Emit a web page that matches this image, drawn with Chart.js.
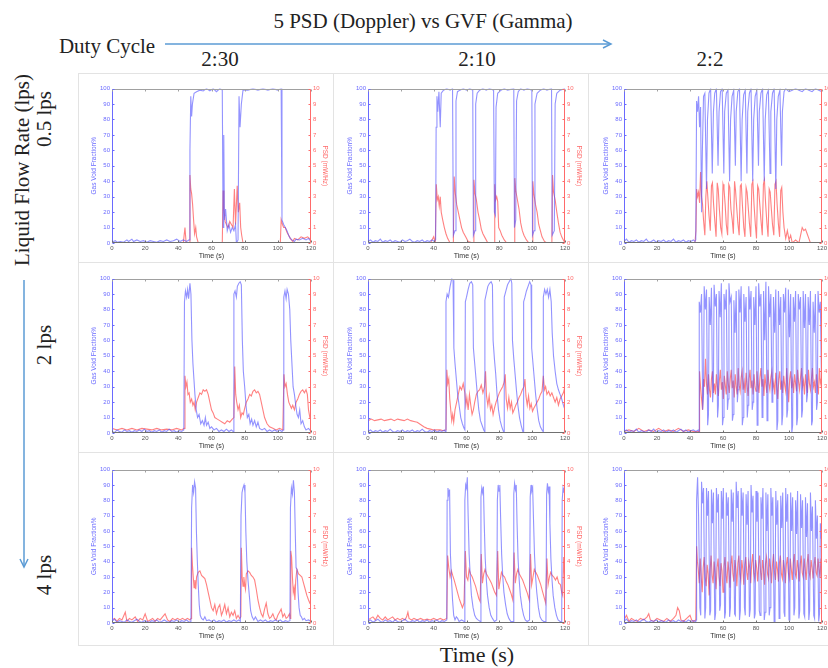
<!DOCTYPE html>
<html>
<head>
<meta charset="utf-8">
<script src="https://cdn.jsdelivr.net/npm/chart.js@4/dist/chart.umd.min.js"></script>
<style>
  html, body { margin: 0; padding: 0; background: #fff; }
  #page { position: relative; width: 828px; height: 668px; overflow: hidden; background: #fff; }
  .lbl { position: absolute; font-family: "Liberation Serif", "DejaVu Serif", serif; color: #222; white-space: nowrap; line-height: 1; transform: translate(-50%, -50%); }
  .rot { transform: translate(-50%, -50%) rotate(-90deg); }
  canvas { position: absolute; }
</style>
</head>
<body>
<div id="page">
  <svg width="828" height="668" style="position:absolute;left:0;top:0">
    <!-- panel frames -->
    <g stroke="#e3e3e3" stroke-width="1" fill="none">
      <rect x="78.5" y="73.5" width="760" height="572"/>
      <line x1="333.5" y1="73" x2="333.5" y2="646"/>
      <line x1="588.5" y1="73" x2="588.5" y2="646"/>
      <line x1="78" y1="262.5" x2="828" y2="262.5"/>
      <line x1="78" y1="452.5" x2="828" y2="452.5"/>
    </g>
    <!-- arrows -->
    <g stroke="#5b9bd5" stroke-width="1.5" fill="none">
      <line x1="165" y1="44" x2="610" y2="44"/>
      <polyline points="603,40 611,44 603,48"/>
      <line x1="24" y1="280" x2="24" y2="566"/>
      <polyline points="20,559 24,567 28,559"/>
    </g>
  </svg>

  <div class="lbl" style="left:423px;top:21px;font-size:21px;">5 PSD (Doppler) vs GVF (Gamma)</div>
  <div class="lbl" style="left:107px;top:46px;font-size:21px;">Duty Cycle</div>
  <div class="lbl" style="left:220px;top:59px;font-size:21px;">2:30</div>
  <div class="lbl" style="left:477px;top:59px;font-size:21px;">2:10</div>
  <div class="lbl" style="left:710px;top:59px;font-size:21px;">2:2</div>

  <div class="lbl rot" style="left:22px;top:170px;font-size:21px;">Liquid Flow Rate (lps)</div>
  <div class="lbl rot" style="left:44px;top:119px;font-size:21px;">0.5 lps</div>
  <div class="lbl rot" style="left:44px;top:345px;font-size:21px;">2 lps</div>
  <div class="lbl rot" style="left:44px;top:575px;font-size:21px;">4 lps</div>

  <div class="lbl" style="left:477px;top:655px;font-size:22px;">Time (s)</div>
</div>

<script>
// axis ticks
const timeTicks = [0, 20, 40, 60, 80, 100, 120];
const gvfTicks = [0, 10, 20, 30, 40, 50, 60, 70, 80, 90, 100];
const psdTicks = [0, 1, 2, 3, 4, 5, 6, 7, 8, 9, 10];

// [time (s), gas void fraction %] and [time (s), PSD mW/Hz]
// row 1: 0.5 lps
const gvf05_230 = [[0,0.5],[2,1.5],[3,0.5],[5,1],[7,0.5],[9,2],[10,1],[12,2.5],[13,1],[15,2],[17,1],[19,1.5],[21,0.5],[23,1.5],[25,1],[27,0.5],[29,1.5],[31,1],[33,2],[35,1],[37,1.5],[39,2.5],[41,1],[43,2],[45,1],[46.5,2],[47,60],[47.5,95],[48,82],[48.5,90],[49.5,97],[51,98],[53,99],[55,98.5],[57,100],[59,98.5],[61,100],[63,98],[65,100],[66.5,99],[67,10],[67.4,70],[67.8,15],[68.5,22],[69.5,8],[70.5,12],[71.5,7],[72.5,10],[73.5,8],[74.5,12],[75,0],[76,2],[76.6,95],[77.2,75],[78,90],[79,99],[82,99],[85,100],[88,99],[91,100],[94,99],[97,100],[100,99],[102,100],[102.5,15],[103.5,12],[104.5,10],[105.5,8],[106.5,5],[107.5,3],[108.5,2],[110,1],[111,2.5],[113,2],[115,3],[117,2],[118.5,3],[120,1]];
const psd05_230 = [[0,0],[43,0],[44,1],[44.7,0],[46.5,0],[47,4.4],[47.5,3.5],[48,3.2],[48.6,2.5],[49.2,1.5],[49.8,0.6],[50.5,1],[51,0.4],[52,0],[66.5,0],[67,3.4],[67.5,2.2],[68.2,1.4],[69,1.2],[70,1],[71,1.4],[72,1.2],[73,1],[73.8,3.5],[74.5,1.2],[75.5,3.7],[76.2,2],[77,2.6],[77.6,1],[78.2,0.5],[79,0],[101.5,0],[102,1.5],[102.8,1.2],[103.5,1],[104.5,1],[105.5,0.7],[106.5,0.5],[107.5,0.3],[109,0.1],[110,0.3],[112,0.2],[114,0.4],[116,0.3],[118,0.4],[120,0.2]];

const gvf05_210 = [[0,1],[1.5,2],[3,0.5],[4.5,1.5],[6,1],[7.5,2.5],[9,0.5],[10.5,1.5],[12,1],[13.5,2],[15,0.5],[16.5,1.5],[18,1],[19.5,0.5],[21,2],[22.5,1],[24,1.5],[25.5,2.5],[27,1],[28.5,0.5],[30,1.5],[31.5,1],[33,2],[34.5,0.5],[36,1.5],[37.5,1],[39,2],[40.5,1],[41.2,2],[41.5,75],[42,95],[42.5,85],[43.2,98],[44,75],[44.6,97],[46,99],[48,100],[50,99],[51.5,100],[52,5],[53,8],[53.6,92],[54.5,98],[56,99],[58,100],[60,99],[62,100],[63.8,99],[64.2,5],[65.2,8],[65.6,90],[66.5,97],[68,99],[70,100],[72,99],[74,100],[76.5,99],[77,20],[77.6,18],[78,88],[79,97],[81,99],[83,100],[85,99],[88.8,100],[89.2,10],[90,15],[90.5,92],[91.5,98],[93,100],[95,99],[97,100],[99.8,99],[100.2,5],[101.2,8],[101.7,90],[103,97],[105,99],[107,100],[109,99],[111.8,100],[112.2,5],[113.5,8],[114,90],[115,97],[117,99],[120,100]];
const psd05_210 = [[0,0],[38,0],[40,0.4],[41,0],[41.6,3.8],[42.2,2.8],[42.8,3],[43.4,2.4],[44,3],[44.6,2],[45.5,1.5],[46.5,1],[47.5,0.6],[48.5,0.3],[50,0],[52,0],[52.5,4.3],[53.2,3.2],[54,2.5],[55,2],[56,1.5],[57,1],[58,0.7],[59.5,0.4],[61,0.1],[64,0],[64.5,4.1],[65.2,3.2],[66,2.8],[67,2],[68,1.5],[69,0.9],[70,0.6],[71.5,0.3],[73,0],[76.8,0],[77.2,3.8],[77.8,2.8],[78.4,3],[79,2.7],[79.6,1],[80.5,0.8],[81.5,0.5],[83,0.2],[84.5,0],[89,0],[89.4,4.2],[90,3.4],[91,2.8],[92,2.2],[93,1.3],[94,0.8],[95,0.5],[96.5,0.2],[98,0],[100,0],[100.4,4],[101,3.2],[102,2.5],[103,2],[104,1.2],[105,0.8],[106,0.4],[107.5,0.1],[109,0],[112,0],[112.4,4.4],[113,3.3],[114,2.8],[115,2],[116,1.3],[117,0.7],[118,0.4],[119,0.2],[120,0]];

const gvf05_22 = [[0,1],[1.5,2.5],[3,0.5],[4.5,1.5],[6,1],[7.5,2],[9,0.5],[10.5,1.5],[12,1],[13.5,2.5],[15,0.5],[16.5,1],[18,2],[19.5,0.5],[21,1.5],[22.5,1],[24,2],[25.5,0.5],[27,1.5],[28.5,1],[30,2.5],[31.5,0.5],[33,1.5],[34.5,1],[36,2],[37.5,0.5],[39,1.5],[40.5,1],[42,2],[43,1],[43.5,2],[44,92],[44.6,85],[45.2,95],[45.8,75],[46.4,88],[47,20],[47.5,60],[48.2,95],[49,97],[50,35],[50.6,80],[51.5,97],[52.5,100],[53.5,45],[54.2,85],[55,97],[56,100],[57,50],[57.6,85],[58.5,98],[59.5,100],[60.5,45],[61,85],[62,97],[63,99],[64,40],[64.6,80],[65.5,95],[66.5,99],[67.5,50],[68,85],[69,98],[70,100],[71,40],[71.6,80],[72.5,96],[73.5,99],[74.5,45],[75,85],[76,97],[77,100],[78,40],[78.6,80],[79.5,95],[80.5,99],[81.5,50],[82,85],[83,97],[84,100],[85,40],[85.6,80],[86.5,96],[87.5,99],[88.5,45],[89,85],[90,97],[91,100],[92,35],[92.6,80],[93.5,95],[94.5,99],[95.5,50],[96,85],[97,98],[98,100],[100,98],[102,99],[104,100],[106,99],[108,98],[110,100],[112,99],[114,98],[116,100],[118,99],[120,98]];
const psd05_22 = [[0,0],[43,0],[43.6,0.8],[44,3.5],[44.6,3],[45.2,3.3],[45.8,2.6],[46.4,4.6],[47,3],[47.6,2.5],[48.2,1.5],[49,0.5],[49.6,3],[50.2,4],[50.8,3],[51.5,1.8],[52.3,0.8],[53,3.7],[53.6,3.9],[54.3,2.5],[55,1.5],[55.8,0.4],[56.5,3.9],[57.1,3.5],[57.8,2.2],[58.6,1],[59.3,0.6],[60,3.8],[60.6,3.5],[61.3,2.5],[62,1.2],[62.8,0.5],[63.5,3.8],[64.1,3.6],[64.8,2.2],[65.6,1.5],[66.3,0.6],[67,4],[67.6,3.4],[68.3,2.3],[69,1.3],[69.8,0.5],[70.5,3.7],[71.1,3.8],[71.8,2.4],[72.6,1],[73.3,0.4],[74,3.6],[74.6,3.3],[75.3,2.3],[76,1.3],[76.8,0.4],[77.5,3.8],[78.1,4],[78.8,2.5],[79.6,1.2],[80.3,0.3],[81,3.7],[81.6,3.5],[82.3,2.5],[83,1.5],[83.8,0.5],[84.5,3.8],[85.1,4.1],[85.8,2.6],[86.6,1.3],[87.3,0.4],[88,3.5],[88.6,3.3],[89.3,2.2],[90,1.2],[90.8,0.5],[91.5,3.8],[92.1,4],[92.8,2.5],[93.6,1.2],[94.3,0.4],[95,3.4],[95.6,3.6],[96.3,2],[97,1],[98,0.3],[99,0.8],[100,0.2],[101,0.5],[102,0],[104,0.2],[106,0],[107,0.5],[108,1],[109,0.8],[110,0.9],[111,0.6],[112,0.3],[113,0],[120,0]];

// row 2: 2 lps
const gvf2_230 = [[0,1],[1.5,0.3],[3,2],[4.5,1],[6,0.5],[7.5,2],[9,1],[10.5,1.5],[12,0.5],[13.5,1.5],[15,1],[16.5,2],[18,1],[19.5,2.5],[21,1],[22.5,1.5],[24,0.5],[25.5,1.5],[27,1],[28.5,2],[30,0.5],[31.5,1.5],[33,1],[34.5,2.5],[36,1],[37.5,1.5],[39,0.5],[40.5,1.5],[42,1],[43.3,2],[43.7,85],[44.3,92],[45,88],[45.6,93],[46.2,87],[47,97],[47.6,90],[48.2,60],[48.8,45],[49.4,35],[50,25],[50.8,15],[51.6,10],[52.5,12],[53.5,6],[54.5,8],[55.5,5],[56.3,10],[57,5],[58,7],[59,3],[60,4],[61.5,2],[63,3],[64.5,1],[66,2],[67.5,1],[69,2.5],[70.5,1],[72,2],[73,1],[73.5,90],[74.2,92],[75,88],[75.6,95],[76.5,97],[77.3,98],[78,96],[78.6,60],[79.2,40],[80,30],[80.8,18],[81.6,10],[82.5,12],[83.3,6],[84.2,9],[85,5],[86,8],[87,4],[88,7],[89,3],[90.5,2],[92,3],[93.5,1],[95,2],[96.5,1],[98,2],[99.5,1],[101,2],[102.5,1],[103.3,2],[103.6,88],[104.3,92],[105,87],[105.6,93],[106.4,90],[107.2,80],[107.8,60],[108.5,45],[109.2,30],[110,25],[110.8,18],[111.6,12],[112.4,10],[113.2,15],[114,6],[115,8],[116,4],[117,2],[118.5,3],[120,1]];
const psd2_230 = [[0,0.3],[3,0.2],[6,0.3],[9,0.2],[12,0.3],[15,0.2],[18,0.3],[21,0.25],[24,0.2],[27,0.3],[30,0.2],[33,0.25],[36,0.2],[39,0.3],[42,0.2],[43.5,0.3],[44,3.7],[44.6,3],[45.2,3.3],[45.8,2.5],[46.5,2.6],[47.2,2],[48,2.2],[48.8,1.8],[49.5,2],[50.2,1.5],[51,2],[52,2.3],[53,2.6],[54,2.5],[55,2.8],[56,2.7],[57,2.8],[58,2.5],[59,2],[60,1.5],[61,1.3],[62,1],[63.5,0.9],[65,0.8],[66.5,0.7],[68,0.6],[69.5,0.8],[71,0.7],[72.5,0.9],[73.5,1],[74,4.3],[74.6,2.5],[75.2,2],[76,1.5],[76.8,1.8],[77.6,1],[78.4,1.3],[79.2,1.2],[80,1.6],[81,2],[82,2.2],[83,2.5],[84,2.4],[85,2.7],[86,2.8],[87,2.6],[88,2.7],[89,2.5],[90,2],[91,1.5],[92,1],[93.5,0.6],[95,0.4],[97,0.3],[99,0.2],[101,0.3],[103,0.2],[103.7,3.8],[104.3,3],[105,3.2],[105.8,2.5],[106.6,2],[107.4,1.8],[108.2,1.6],[109,1.8],[110,1.5],[111,2],[112,2.2],[113,2.5],[114,2.7],[115,2.8],[116,2.6],[117,2.8],[117.8,2.5],[118.5,1.5],[119.3,1],[120,1]];

const gvf2_210 = [[0,1],[1.5,2],[3,0.5],[4.5,1.5],[6,1],[7.5,2],[9,0.5],[10.5,1.5],[12,1],[13.5,2.5],[15,1],[16.5,0.5],[18,1.5],[19.5,1],[21,2],[22.5,0.5],[24,1.5],[25.5,1],[27,2],[28.5,0.5],[30,1.5],[31.5,1],[33,2.5],[34.5,1],[36,0.5],[37.5,1.5],[39,1],[40.5,2],[42,0.5],[43.5,1.5],[45,1],[46.5,2],[47,1],[47.5,85],[48.2,90],[49,88],[50,95],[51,100],[51.8,99],[52.3,55],[53,45],[53.8,35],[54.6,25],[55.5,18],[56.5,10],[57.5,6],[58.5,3],[59,2],[59.3,85],[60,88],[61,93],[62,97],[63,98],[63.8,96],[64.2,55],[65,45],[65.8,35],[66.6,25],[67.5,15],[68.5,8],[69.5,5],[70.5,2],[71,1],[71.2,86],[72,90],[73,95],[74,97],[75,98],[75.8,96],[76.2,60],[77,48],[77.8,38],[78.6,25],[79.5,15],[80.5,8],[81.5,4],[82.5,1],[82.9,0],[83,88],[84,92],[85,96],[86,98],[87,100],[87.6,97],[88,60],[88.8,48],[89.6,38],[90.4,28],[91.3,18],[92.3,10],[93.3,5],[94.3,1],[94.7,0],[94.8,85],[95.6,88],[96.5,92],[97.5,95],[98.5,98],[99.3,96],[99.7,55],[100.5,45],[101.3,35],[102.1,25],[103,16],[104,8],[105,4],[106,2],[106.6,1],[106.8,88],[107.6,93],[108.4,90],[109.2,93],[110,88],[110.8,93],[111.6,85],[112.2,65],[113,50],[114,40],[115,32],[116,28],[117,25],[118,22],[119,18],[120,15]];
const psd2_210 = [[0,0.8],[2,0.9],[4,0.8],[6,0.85],[8,0.9],[10,0.8],[12,0.85],[14,0.9],[16,0.8],[18,0.9],[20,0.85],[22,0.8],[24,0.9],[26,0.8],[28,0.75],[30,0.7],[32,0.55],[34,0.4],[36,0.3],[38,0.25],[40,0.2],[42,0.2],[44,0.2],[46,0.15],[47.5,0.2],[48,4.1],[48.6,3.2],[49.2,3.5],[49.8,2.2],[50.4,1.5],[51,0.8],[51.6,1.2],[52.2,0.7],[53,1.5],[54,2],[55,2.5],[56,3],[57,2.8],[58,3.2],[59,2.6],[59.6,1.8],[60.2,2.3],[61,1.5],[61.8,2.5],[62.6,1.8],[63.4,1.2],[64.2,1.5],[65,2],[66,2.5],[67,2.7],[68,2.8],[69,3.1],[70,2.6],[71,3],[71.6,4],[72.2,2.4],[73,1.8],[73.8,2.4],[74.6,1.5],[75.4,1.8],[76.2,1.2],[77,1.6],[78,2],[79,2.3],[80,2.6],[81,2.8],[82,3],[83,3.3],[83.6,3.8],[84.2,2.2],[85,1.6],[85.8,2.3],[86.6,1.6],[87.4,2],[88.2,1.3],[89,1.5],[90,1.8],[91,2],[92,2.3],[93,2.5],[94,2.8],[95,3],[95.6,3.5],[96.2,2.4],[97,1.8],[97.8,2.4],[98.6,1.6],[99.4,1.9],[100.2,1.4],[101,1.6],[102,1.8],[103,2],[104,2.2],[105,2.5],[106,2.7],[106.8,3.7],[107.5,2.8],[108.2,3],[109,2.5],[110,2.7],[111,2.4],[112,2.6],[113,2.3],[114,2],[115,2.3],[116,1.8],[117,2.2],[118,2.4],[119,2.6],[120,3]];

const gvf2_22 = [[0,1],[1.5,2],[3,0.5],[4.5,1.5],[6,1],[7.5,2.5],[9,0.5],[10.5,1.5],[12,1],[13.5,0.5],[15,2],[16.5,1],[18,2.5],[19.5,0.5],[21,1.5],[22.5,1],[24,2],[25.5,0.5],[27,1.5],[28.5,1],[30,2],[31.5,0.5],[33,1.5],[34.5,2.5],[36,1],[37.5,2],[39,0.5],[40.5,1.5],[42,2],[43.5,1],[45,2],[45.5,1],[45.6,85],[46.3,78],[47,90],[47.7,15],[48.2,25],[48.6,95],[49.3,80],[50,93],[50.7,5],[51.2,12],[51.6,88],[52.3,70],[53,94],[53.7,20],[54.2,30],[54.6,96],[55.3,82],[56,90],[56.7,10],[57.2,18],[57.6,92],[58.3,75],[59,97],[59.7,5],[60.2,10],[60.6,90],[61.3,80],[62,93],[62.7,15],[63.2,22],[63.6,97],[64.3,85],[65,88],[65.7,8],[66.2,12],[66.6,86],[67.3,65],[68,92],[68.7,20],[69.2,28],[69.6,93],[70.3,78],[71,95],[71.7,5],[72.2,10],[72.6,90],[73.3,72],[74,88],[74.7,10],[75.2,18],[75.6,95],[76.3,80],[77,92],[77.7,15],[78.2,20],[78.6,88],[79.3,70],[80,95],[80.7,5],[81.2,8],[81.6,97],[82.3,82],[83,90],[83.7,10],[84.2,15],[84.6,92],[85.3,60],[86,98],[86.7,8],[87.2,12],[87.6,95],[88.3,75],[89,90],[89.7,20],[90.2,25],[90.6,88],[91.3,65],[92,93],[92.7,2],[93.2,8],[93.6,92],[94.3,70],[95,88],[95.7,5],[96.2,12],[96.6,90],[97.3,78],[98,94],[98.7,10],[99.2,15],[99.6,93],[100.3,62],[101,90],[101.7,0],[102.2,5],[102.6,88],[103.3,72],[104,92],[104.7,5],[105.2,10],[105.6,90],[106.3,80],[107,88],[107.7,10],[108.2,15],[108.6,92],[109.3,68],[110,90],[110.7,20],[111.2,25],[111.6,88],[112.3,70],[113,92],[113.7,5],[114.2,8],[114.6,85],[115.3,65],[116,90],[116.7,15],[117.2,20],[117.6,92],[118.3,78],[119,85],[119.6,40],[120,20]];
const psd2_22 = [[0,0.1],[3,0.2],[6,0.1],[9,0.3],[12,0.1],[15,0.2],[18,0.1],[21,0.3],[24,0.1],[27,0.2],[30,0.1],[33,0.3],[36,0.1],[39,0.2],[42,0.1],[45.5,0.1],[45.8,4],[46.4,3],[47,2.2],[47.6,1.5],[48.2,3.5],[48.8,3],[49.4,4.8],[50,3.2],[50.6,2.5],[51.2,3.8],[51.8,2.8],[52.4,2.3],[53,3.5],[53.6,4],[54.2,2.6],[54.8,3.2],[55.4,2.5],[56,3.8],[56.6,3],[57.2,2.4],[57.8,3.4],[58.4,4.1],[59,2.8],[59.6,3.3],[60.2,2.2],[60.8,3.7],[61.4,3.1],[62,2.5],[62.6,4],[63.2,3.2],[63.8,2.6],[64.4,3.5],[65,4.1],[65.6,2.9],[66.2,3.4],[66.8,2.3],[67.4,3.8],[68,3],[68.6,2.5],[69.2,4.2],[69.8,3.1],[70.4,2.7],[71,3.6],[71.6,4],[72.2,2.8],[72.8,3.3],[73.4,2.6],[74,3.9],[74.6,3.1],[75.2,2.4],[75.8,3.5],[76.4,4.1],[77,2.9],[77.6,3.4],[78.2,2.5],[78.8,3.8],[79.4,3],[80,2.7],[80.6,4],[81.2,3.2],[81.8,2.6],[82.4,3.6],[83,4.2],[83.6,3],[84.2,3.5],[84.8,2.4],[85.4,3.8],[86,3.1],[86.6,2.6],[87.2,4.1],[87.8,3.2],[88.4,2.8],[89,3.6],[89.6,4],[90.2,2.9],[90.8,3.3],[91.4,2.5],[92,3.9],[92.6,3],[93.2,2.2],[93.8,3.5],[94.4,4],[95,2.8],[95.6,3.4],[96.2,2.6],[96.8,3.7],[97.4,3.1],[98,2.7],[98.6,4.2],[99.2,3.1],[99.8,2],[100.4,3.5],[101,4],[101.6,2.9],[102.2,3.4],[102.8,2.6],[103.4,3.8],[104,3.2],[104.6,2.7],[105.2,4.1],[105.8,3.3],[106.4,2.8],[107,3.6],[107.6,4.2],[108.2,3],[108.8,3.4],[109.4,2.5],[110,3.8],[110.6,3.1],[111.2,2.6],[111.8,4.1],[112.4,3.2],[113,2.8],[113.6,3.5],[114.2,4.2],[114.8,3],[115.4,3.3],[116,2.6],[116.6,3.8],[117.2,3.1],[117.8,2.5],[118.4,4.2],[119,3.2],[119.6,3.5],[120,3.3]];

// row 3: 4 lps
const gvf4_230 = [[0,1],[1.5,2.5],[3,0.5],[4.5,1.5],[6,1],[7.5,0.5],[9,2],[10.5,1],[12,0.5],[13.5,1.5],[15,2.5],[16.5,1],[18,0.5],[19.5,1.5],[21,1],[22.5,0.5],[24,1.5],[25.5,1],[27,2],[28.5,0.5],[30,1],[31.5,2],[33,1],[34.5,0.5],[36,1.5],[37.5,1],[39,2],[40.5,0.5],[42,1.5],[43.5,1],[45,2],[46.5,0.5],[47.6,1],[48,75],[48.6,90],[49.2,85],[49.8,92],[50.4,88],[50.9,60],[51.4,42],[52,25],[52.6,12],[53.2,5],[54,3],[55,2],[56,4],[57,1.5],[58.5,2],[60,1],[61.5,2],[63,0.5],[64.5,1.5],[66,1],[67.5,2],[69,0.5],[70.5,1.5],[72,1],[73.5,2],[75,1],[76.5,2],[77.4,1],[77.8,70],[78.4,85],[79,88],[79.6,90],[80.2,85],[80.7,60],[81.3,40],[82,28],[82.8,18],[83.6,8],[84.5,4],[85.5,2],[86.5,4],[88,1],[89.5,2],[91,1],[92.5,2],[94,0.5],[95.5,1.5],[97,1],[98.5,2],[100,1],[101.5,2],[103,0.5],[104.5,1.5],[106,1],[107.3,1.5],[107.6,75],[108.2,88],[108.8,84],[109.4,93],[110,85],[110.5,60],[111,36],[111.6,35],[112.2,20],[112.8,10],[113.5,5],[114.2,4],[115,2],[116,3],[117,1.5],[118.5,2],[120,1]];
const psd4_230 = [[0,0.2],[1.5,0.3],[3,0.1],[4.5,0.3],[6,0.2],[8,0.7],[9,0.1],[10.5,0.3],[12,0.2],[14,0.4],[15.5,0.1],[17,0.3],[18.5,0.2],[20,0.6],[21.5,0.1],[23,0.2],[24.5,0.3],[26,0.1],[27.5,0.3],[29,0.2],[30.5,0.4],[32,0.6],[33.5,0.2],[35,0.1],[36.5,0.3],[38,0.2],[39.5,0.3],[41,0.2],[42.5,0.3],[44,0.2],[45.5,0.3],[47,0.2],[47.8,0.3],[48,4.9],[48.5,3.8],[49,3],[49.5,2.3],[50,2.8],[50.5,2.2],[51,3],[52,3.3],[53,3.4],[54,3.1],[55,3],[56,2.9],[57,2.5],[58,2],[59,1.5],[60,1],[61,0.8],[62,1.2],[63,0.6],[64,1],[65,1.2],[66,0.5],[67,0.8],[68,1.2],[69,0.6],[70,1],[71,0.4],[72,0.7],[73,0.5],[74,0.8],[75,0.3],[76,0.5],[77,0.3],[77.7,0.4],[78,4.9],[78.5,3],[79,2.4],[79.5,3],[80,2.5],[80.5,2.2],[81,3.2],[82,3.4],[83,3.3],[84,3.1],[85,3],[86,2.8],[87,2.2],[88,1.5],[89,1],[90,0.6],[91,0.4],[92,0.9],[93,1.3],[94,0.6],[95,0.3],[96,0.4],[97,0.6],[98,0.3],[99,0.2],[100,0.5],[101,0.7],[102,0.9],[103,0.4],[104,0.6],[105,0.3],[106,0.4],[107,0.6],[107.5,0.3],[107.8,4.7],[108.3,4.3],[108.8,3],[109.3,2],[109.8,2.3],[110.3,1.5],[110.8,2.8],[111.5,3.5],[112.5,3.2],[113.5,3.1],[114.5,3],[115.5,2.6],[116.5,2.2],[117.5,1.8],[118.5,1.5],[119.3,1.3],[120,1.4]];

const gvf4_210 = [[0,1],[1.5,2],[3,0.5],[4.5,1.5],[6,2.5],[7.5,1],[9,0.5],[10.5,2],[12,1],[13.5,1.5],[15,0.5],[16.5,2],[18,1],[19.5,0.5],[21,1.5],[22.5,2.5],[24,1],[25.5,0.5],[27,1.5],[28.5,1],[30,2],[31.5,0.5],[33,1.5],[34.5,1],[36,2],[37.5,0.5],[39,1.5],[40.5,1],[42,2],[43.5,0.5],[45,1.5],[46.5,1],[48,2],[48.2,80],[48.7,88],[49.2,84],[49.7,87],[50.2,45],[50.8,30],[51.5,15],[52.2,5],[53,2],[53.8,4],[54.6,3],[55.5,1],[57,2],[58.6,1],[59,80],[59.5,90],[60,88],[60.5,95],[61,70],[61.6,45],[62.3,30],[63,18],[64,10],[65,5],[66,3],[67,2],[68.4,1],[68.8,82],[69.3,88],[69.8,85],[70.3,89],[70.8,65],[71.4,42],[72.1,28],[72.8,18],[73.8,10],[74.8,5],[75.8,3],[77,1],[78.4,2],[78.8,80],[79.3,90],[79.8,86],[80.3,90],[80.8,68],[81.4,45],[82.1,30],[82.8,20],[83.8,12],[84.8,6],[85.8,3],[87,1],[88.4,1],[88.8,84],[89.3,91],[89.8,87],[90.3,90],[90.8,65],[91.4,42],[92.1,28],[92.8,18],[93.8,10],[94.8,5],[95.8,2],[97,1],[98.4,2],[98.8,82],[99.3,90],[99.8,86],[100.3,88],[100.8,68],[101.4,45],[102.1,30],[102.8,20],[103.8,10],[104.8,4],[105.8,2],[107,1],[108.4,1],[108.8,84],[109.3,91],[109.8,86],[110.3,89],[110.8,65],[111.4,42],[112.1,28],[112.8,18],[113.8,10],[114.8,5],[115.8,2],[117,1],[118,1],[118.3,80],[118.8,88],[119.3,85],[120,90]];
const psd4_210 = [[0,0.2],[1.5,0.3],[3,0.4],[4.5,0.2],[6,0.5],[7.5,0.3],[9,0.2],[10.5,0.4],[12,0.2],[13.5,0.3],[15,0.4],[16.5,0.2],[18,0.3],[19.5,0.2],[21,0.3],[22.5,0.2],[23.5,0.4],[24.3,0.7],[25,0.3],[26.5,0.2],[28,0.3],[30,0.2],[32,0.3],[34,0.2],[36,0.25],[38,0.2],[40,0.3],[42,0.2],[44,0.3],[46,0.2],[48,0.3],[48.5,4.4],[49.2,3.6],[50,3],[50.8,3.4],[51.6,3.1],[52.5,2.8],[53.5,2.4],[54.5,2],[55.5,1.6],[56.5,1.3],[57.5,1],[58.5,1.3],[59.3,4.7],[60,3],[60.8,2.8],[61.6,3.5],[62.5,3.2],[63.5,3],[64.5,2.7],[65.5,2.4],[66.5,2],[67.5,1.6],[68.3,1.4],[69,4.5],[69.7,2.6],[70.5,3.2],[71.3,3.5],[72.2,3.2],[73.2,3],[74.2,2.8],[75.2,2.6],[76.2,2.3],[77.2,2],[78.2,1.8],[79,4.7],[79.7,2.2],[80.5,2.8],[81.3,3.3],[82.2,3.1],[83.2,3],[84.2,2.7],[85.2,2.5],[86.2,2.2],[87.2,1.9],[88.2,1.5],[89,4.6],[89.7,2.6],[90.5,3.2],[91.3,3.5],[92.2,3.2],[93.2,3],[94.2,2.8],[95.2,2.5],[96.2,2.2],[97.2,1.9],[98.2,1.5],[99,4.5],[99.7,2.5],[100.5,3],[101.3,3.5],[102.2,3.3],[103.2,3.1],[104.2,2.8],[105.2,2.5],[106.2,2.1],[107.2,1.7],[108.2,1.3],[109,4.2],[109.7,2.5],[110.5,3],[111.3,3.3],[112.2,3.1],[113.2,3],[114.2,2.8],[115.2,3],[116.2,2.6],[117.2,2.5],[118,2],[118.6,1.8],[119.2,4.3],[120,2.5]];

const gvf4_22 = [[0,1],[1.5,2.5],[3,0.5],[4.5,1.5],[6,1],[7.5,2],[9,0.5],[10.5,1.5],[12,2.5],[13.5,1],[15,0.5],[16.5,1.5],[18,1],[19.5,2],[21,0.5],[22.5,1.5],[24,1],[25.5,0.5],[27,2],[28.5,1],[30,1.5],[31.5,0.5],[33,2],[34.5,1],[36,1.5],[37.5,0.5],[39,2],[40.5,1],[42,1.5],[43.5,1],[43.8,2],[44,80],[44.6,95],[45.2,70],[46,10],[46.5,5],[47,92],[47.6,78],[48.2,88],[49,3],[49.5,10],[50,88],[50.6,70],[51.2,86],[52,5],[52.5,8],[53,87],[53.6,65],[54.2,85],[55,2],[55.5,6],[56,88],[56.6,72],[57.2,84],[58,8],[58.5,12],[59,86],[59.6,68],[60.2,88],[61,3],[61.5,7],[62,85],[62.6,70],[63.2,82],[64,4],[64.5,10],[65,87],[65.6,66],[66.2,85],[67,6],[67.5,5],[68,92],[68.6,75],[69.2,86],[70,2],[70.5,8],[71,88],[71.6,70],[72.2,85],[73,10],[73.5,5],[74,84],[74.6,64],[75.2,86],[76,4],[76.5,9],[77,90],[77.6,72],[78.2,83],[79,3],[79.5,6],[80,86],[80.6,66],[81.2,85],[82,8],[82.5,5],[83,82],[83.6,68],[84.2,88],[85,2],[85.5,7],[86,85],[86.6,60],[87.2,84],[88,5],[88.5,10],[89,88],[89.6,70],[90.2,82],[91,0],[91.5,6],[92,86],[92.6,64],[93.2,80],[94,3],[94.5,8],[95,83],[95.6,62],[96.2,85],[97,7],[97.5,4],[98,88],[98.6,66],[99.2,84],[100,2],[100.5,6],[101,85],[101.6,60],[102.2,82],[103,5],[103.5,10],[104,80],[104.6,58],[105.2,86],[106,3],[106.5,8],[107,84],[107.6,62],[108.2,80],[109,6],[109.5,4],[110,82],[110.6,56],[111.2,78],[112,2],[112.5,8],[113,85],[113.6,60],[114.2,76],[115,5],[115.5,3],[116,80],[116.6,55],[117.2,70],[118,1],[118.5,6],[119,65],[119.5,55],[120,62]];
const psd4_22 = [[0,0.2],[1.5,0.5],[3,0.1],[4.5,0.3],[6,0.2],[8,0.1],[10,0.3],[12,0.2],[14,0.4],[15,0.6],[16,0.2],[18,0.1],[20,0.3],[22,0.2],[24,0.1],[26,0.3],[28,0.1],[30,0.3],[31.5,0.5],[32.5,1],[33.5,0.8],[34.5,0.2],[36,0.1],[38,0.3],[40,0.5],[41,0.2],[42,0.1],[43.5,0.2],[44,5],[44.5,4],[45,3.5],[45.6,2.6],[46.2,4.2],[46.8,3],[47.4,2],[48,3.6],[48.6,4.3],[49.2,3],[49.8,2.4],[50.4,3.8],[51,3.2],[51.6,1.8],[52.2,3.5],[52.8,4.4],[53.4,3.1],[54,2.6],[54.6,4],[55.2,3.3],[55.8,2.2],[56.4,3.6],[57,4.2],[57.6,3],[58.2,2.4],[58.8,3.9],[59.4,3.4],[60,2],[60.6,3.7],[61.2,4.3],[61.8,3.1],[62.4,2.6],[63,4],[63.6,3.4],[64.2,2.3],[64.8,3.8],[65.4,4.4],[66,3.2],[66.6,2.7],[67.2,4.1],[67.8,3.5],[68.4,2.4],[69,3.9],[69.6,4.4],[70.2,3.2],[70.8,2.8],[71.4,4.1],[72,3.5],[72.6,2.5],[73.2,3.8],[73.8,4.3],[74.4,3.3],[75,2.8],[75.6,4],[76.2,3.6],[76.8,2.6],[77.4,3.9],[78,4.5],[78.6,3.3],[79.2,2.9],[79.8,4.1],[80.4,3.6],[81,2.7],[81.6,3.8],[82.2,4.4],[82.8,3.3],[83.4,2.8],[84,4.1],[84.6,3.5],[85.2,2.5],[85.8,3.9],[86.4,4.3],[87,3.2],[87.6,2.9],[88.2,4.2],[88.8,3.6],[89.4,2.6],[90,3.8],[90.6,4.5],[91.2,3.3],[91.8,2.8],[92.4,4],[93,3.5],[93.6,2.7],[94.2,3.9],[94.8,4.4],[95.4,3.2],[96,2.9],[96.6,4.1],[97.2,3.6],[97.8,2.6],[98.4,3.8],[99,4.3],[99.6,3.3],[100.2,2.9],[100.8,4.2],[101.4,3.5],[102,2.8],[102.6,3.9],[103.2,4.5],[103.8,3.2],[104.4,3],[105,4.1],[105.6,3.6],[106.2,2.7],[106.8,3.8],[107.4,4.4],[108,3.3],[108.6,3],[109.2,4.2],[109.8,3.5],[110.4,2.8],[111,3.9],[111.6,4.5],[112.2,3.3],[112.8,3],[113.4,4.1],[114,3.6],[114.6,2.9],[115.2,3.8],[115.8,4.3],[116.4,3.3],[117,3.1],[117.6,4.2],[118.2,3.5],[118.8,3],[119.4,4.2],[120,3.6]];

const BLUE = 'rgba(80, 80, 255, 0.62)';
const RED = 'rgba(255, 70, 70, 0.68)';
const BLUE_AXIS = '#6a6aff';
const RED_AXIS = '#ff6a6a';
const SANS = '"Liberation Sans", Arial, sans-serif';

// plot box drawn matlab style: coloured y axes, ticks pointing inwards
const framePlugin = {
    id: 'frame',
    afterDatasetsDraw(chart) {
        const { ctx, chartArea: a, scales } = chart;
        const L = Math.round(a.left) + 0.5, R = Math.round(a.right) - 0.5;
        const T = Math.round(a.top) + 0.5, B = Math.round(a.bottom) - 0.5;
        ctx.save();
        ctx.lineWidth = 1;
        const seg = (x1, y1, x2, y2, c) => {
            ctx.strokeStyle = c;
            ctx.beginPath();
            ctx.moveTo(x1, y1);
            ctx.lineTo(x2, y2);
            ctx.stroke();
        };
        seg(L, T, R, T, '#a0a0a0');
        seg(L, B, R, B, '#707070');
        seg(L, T, L, B, BLUE_AXIS);
        seg(R, T, R, B, RED_AXIS);
        scales.x.ticks.forEach(t => {
            const x = Math.round(scales.x.getPixelForValue(t.value)) + 0.5;
            seg(x, B, x, B - 2, '#707070');
            seg(x, T, x, T + 2, '#a0a0a0');
        });
        scales.y.ticks.forEach(t => {
            const y = Math.round(scales.y.getPixelForValue(t.value)) + 0.5;
            seg(L, y, L + 2, y, BLUE_AXIS);
        });
        scales.y1.ticks.forEach(t => {
            const y = Math.round(scales.y1.getPixelForValue(t.value)) + 0.5;
            seg(R, y, R - 2, y, RED_AXIS);
        });
        ctx.restore();
    }
};

const toXY = arr => arr.map(p => ({ x: p[0], y: p[1] }));
const noGrid = { display: false, drawTicks: false };

function makePanel(plotLeft, plotTop, plotW, plotH, gvf, psd) {
    const leftW = 24, rightW = 20, topPad = 4, bottomH = 18;
    const canvas = document.createElement('canvas');
    canvas.width = plotW + leftW + rightW;
    canvas.height = plotH + topPad + bottomH;
    canvas.style.left = (plotLeft - leftW) + 'px';
    canvas.style.top = (plotTop - topPad) + 'px';
    canvas.style.width = canvas.width + 'px';
    canvas.style.height = canvas.height + 'px';
    document.getElementById('page').appendChild(canvas);

    new Chart(canvas, {
        type: 'line',
        data: {
            datasets: [{
                data: toXY(gvf),
                yAxisID: 'y',
                borderColor: BLUE,
                borderWidth: 1.1,
                pointRadius: 0,
                tension: 0
            }, {
                data: toXY(psd),
                yAxisID: 'y1',
                borderColor: RED,
                borderWidth: 1.1,
                pointRadius: 0,
                tension: 0
            }]
        },
        options: {
            responsive: false,
            animation: false,
            devicePixelRatio: 1,
            layout: { padding: { top: topPad, left: 0, right: 0, bottom: 0 } },
            plugins: { legend: { display: false }, tooltip: { enabled: false } },
            scales: {
                x: {
                    type: 'linear',
                    min: 0, max: 120,
                    afterBuildTicks: s => { s.ticks = timeTicks.map(v => ({ value: v })); },
                    ticks: { font: { size: 6, family: SANS }, color: '#555', padding: 2, maxRotation: 0, autoSkip: false },
                    grid: noGrid,
                    border: { display: false },
                    title: { display: true, text: 'Time (s)', color: '#333', font: { size: 7, family: SANS }, padding: { top: 0, bottom: 1 } },
                    afterFit: s => { s.height = bottomH; }
                },
                y: {
                    position: 'left',
                    min: 0, max: 100,
                    afterBuildTicks: s => { s.ticks = gvfTicks.map(v => ({ value: v })); },
                    ticks: { font: { size: 6, family: SANS }, color: BLUE_AXIS, padding: 2, autoSkip: false },
                    grid: noGrid,
                    border: { display: false },
                    title: { display: true, text: 'Gas Void Fraction%', color: BLUE_AXIS, font: { size: 6.5, family: SANS }, padding: { top: 2, bottom: 0 } },
                    afterFit: s => { s.width = leftW; }
                },
                y1: {
                    position: 'right',
                    min: 0, max: 10,
                    afterBuildTicks: s => { s.ticks = psdTicks.map(v => ({ value: v })); },
                    ticks: { font: { size: 6, family: SANS }, color: RED_AXIS, padding: 2, autoSkip: false },
                    grid: noGrid,
                    border: { display: false },
                    title: { display: true, text: 'PSD (mW/Hz)', color: RED_AXIS, font: { size: 6.5, family: SANS }, padding: { top: 2, bottom: 0 } },
                    afterFit: s => { s.width = rightW; }
                }
            }
        },
        plugins: [framePlugin]
    });
}

const colLeft = [112, 368, 624];
const colWidth = [199, 197, 198];
const rowTop = [87, 277, 468];
const rowHeight = [156, 156, 155];
const panels = [
    [gvf05_230, psd05_230], [gvf05_210, psd05_210], [gvf05_22, psd05_22],
    [gvf2_230, psd2_230], [gvf2_210, psd2_210], [gvf2_22, psd2_22],
    [gvf4_230, psd4_230], [gvf4_210, psd4_210], [gvf4_22, psd4_22]
];
panels.forEach((p, i) => {
    const r = Math.floor(i / 3), c = i % 3;
    makePanel(colLeft[c], rowTop[r], colWidth[c], rowHeight[r], p[0], p[1]);
});
</script>
</body>
</html>
